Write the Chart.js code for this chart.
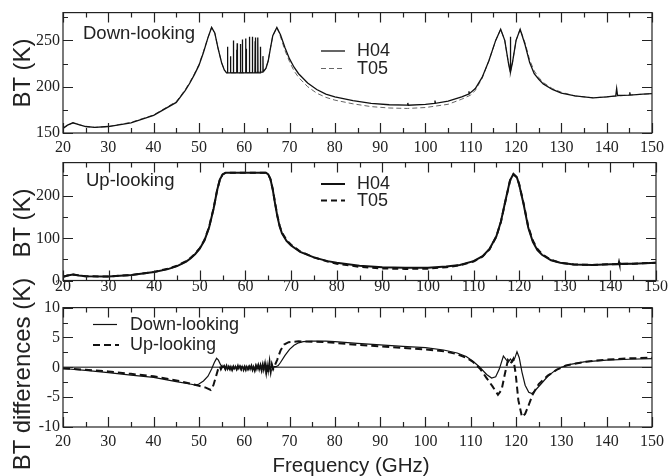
<!DOCTYPE html>
<html>
<head>
<meta charset="utf-8">
<script src="https://cdn.jsdelivr.net/npm/chart.js@4.4.1/dist/chart.umd.min.js"></script>
<style>
  body { margin: 0; background: #fff; }
  #wrap { position: relative; width: 669px; height: 476px; overflow: hidden;
          font-family: 'Liberation Sans', Arial, sans-serif; color: #222; }
  canvas { position: absolute; left: 0; }
  .t { position: absolute; white-space: nowrap; line-height: 1; }
  .rot { transform: translate(-50%, -50%) rotate(-90deg); font-size: 24px; }
  .lab { font-size: 18.5px; transform: translateY(-50%); }
  svg { position: absolute; left: 0; top: 0; }
</style>
</head>
<body>
<div id="wrap">
  <canvas id="c1" width="669" height="155" style="top:0"></canvas>
  <canvas id="c2" width="669" height="150" style="top:150px"></canvas>
  <canvas id="c3" width="669" height="181" style="top:295px"></canvas>

  <div class="t rot" style="left:22px;top:73px">BT (K)</div>
  <div class="t rot" style="left:22px;top:223px">BT (K)</div>
  <div class="t rot" style="left:22px;top:374px">BT differences (K)</div>
  <div class="t" style="left:351px;top:465px;transform:translate(-50%,-50%);font-size:20.5px">Frequency (GHz)</div>

  <div class="t lab" style="left:83px;top:33px">Down-looking</div>
  <div class="t lab" style="left:86px;top:180px">Up-looking</div>
  <div class="t lab" style="left:357px;top:50px;font-size:18px">H04</div>
  <div class="t lab" style="left:357px;top:68px;font-size:18px">T05</div>
  <div class="t lab" style="left:357px;top:183px;font-size:18px">H04</div>
  <div class="t lab" style="left:357px;top:200px;font-size:18px">T05</div>
  <div class="t lab" style="left:130px;top:324px;font-size:18px">Down-looking</div>
  <div class="t lab" style="left:130px;top:344px;font-size:18px">Up-looking</div>

  <svg width="669" height="476">
    <line x1="321" y1="51" x2="345" y2="51" stroke="#111" stroke-width="1.3"/>
    <line x1="321" y1="68.5" x2="345" y2="68.5" stroke="#666" stroke-width="1" stroke-dasharray="5,3"/>
    <line x1="321" y1="184" x2="345" y2="184" stroke="#111" stroke-width="2"/>
    <line x1="321" y1="200.5" x2="345" y2="200.5" stroke="#111" stroke-width="2" stroke-dasharray="6,4"/>
    <line x1="93" y1="324.5" x2="117" y2="324.5" stroke="#111" stroke-width="1.2"/>
    <line x1="93" y1="345" x2="119" y2="345" stroke="#111" stroke-width="2" stroke-dasharray="7,4"/>
  </svg>
</div>
<script>
// frequency ticks (GHz), labelled every 10
const freqTicks = [20, 25, 30, 35, 40, 45, 50, 55, 60, 65, 70, 75, 80, 85, 90, 95, 100,
                   105, 110, 115, 120, 125, 130, 135, 140, 145, 150];
const downTicks = [150, 175, 200, 225, 250, 275];
const upTicks = [0, 50, 100, 150, 200, 250];
const diffTicks = [-10, -7.5, -5, -2.5, 0, 2.5, 5, 7.5, 10];

// down-looking BT (K), H04 model
const downH04 = [
  [20,155],[21,158.5],[22.2,161],[23.5,159],[25,157],[27,156],[30,157],[35,161],[40,169],
  [45,183],[47,196],[48,204],[49,213],[50,223],[51,237],[52,253],[52.8,264],[53.5,258],
  [54.2,242],[55,226],[55.6,218],[56.1,215],
  [56.21,215],[56.26,243],[56.31,215.5],[56.36,236],[56.41,215],[56.92,215],[56.97,233],[57.02,215],
  [57.56,215],[57.61,250],[57.66,215],[58.27,215],[58.32,240],[58.38,215.5],[58.45,247],[58.5,215],
  [59.11,215],[59.16,246],[59.21,215],[59.54,215],[59.59,251],[59.64,215],[60.26,215],[60.31,252],
  [60.37,215.5],[60.43,241],[60.48,215],[61.1,215],[61.15,254],[61.2,215],[61.75,215],[61.8,254],
  [61.85,215],[62.36,215],[62.41,249],[62.45,215.5],[62.49,253],[62.54,215],[62.94,215],[62.99,253],
  [63.04,215],[63.52,215],[63.57,243],[63.62,215.5],[64.08,216],[64.13,233],[64.18,216.5],
  [64.5,218],[64.8,220],[65.3,228],[65.8,242],[66.3,255],[67.2,264],[68,256],[69,242],[70,230],
  [71,221],[72,214],[74,204],[76,197],[78,192],[80,189],[84,185],[88,182],[92,180.5],[96,180],
  [96.1,182.5],[96.2,180],[100,181],[102,182],[102.1,185],[102.2,182],[105,184.5],[108,189],
  [109.5,192],[109.6,195],[109.7,192.5],[111,198],[112.5,210],[114,228],[115.5,250],[116.6,262],
  [117.5,250],[118.3,226],[118.7,216],[118.75,254],[118.8,216],[119.2,226],[120,250],[120.9,262],
  [122,245],[123,226],[124,214],[125,208],[126,203],[128,197],[130,193],[133,190],[137,188],
  [140,189],[142,190],[142.2,198],[142.4,190.5],[145,191],[145.1,194],[145.2,191],[148,192],[150,192.5]
];
// down-looking BT (K), T05 model
const downT05 = [
  [20,155],[21,158.5],[22.2,161],[23.5,159],[25,157],[27,156],[30,157],[35,161.5],[40,169.5],
  [45,184],[47,197],[48,205],[49,214],[50,224],[51,238],[52,253],[52.8,264],[53.5,258],[54.2,242],
  [55,226],[55.6,218],[56.1,215],[60,215],[64.3,216],[64.8,220],[65.3,228],[65.8,242],[66.3,255],
  [67.2,264],[68,254],[69,239],[70,227],[71,217],[72,210],[74,200],[76,193],[78,188.5],[80,185.5],
  [84,181.5],[88,178.5],[92,177],[96,176.5],[100,177.5],[105,181],[108,186.5],[110,191],[111,196],
  [112.5,209],[114,228],[115.5,250],[116.6,262],[117.5,250],[118.3,226],[118.75,216],[119.2,226],
  [120,250],[120.9,262],[122,247],[123,229],[124,217],[125,210],[126,204.5],[128,198],[130,194],
  [133,190],[137,188],[140,189],[145,191],[150,192.5]
];

// up-looking BT (K)
const upH04 = [
  [20,9],[21,12],[22.2,14.5],[23.5,12],[25,10],[30,9.5],[35,13],[40,20],[43,27],[45,34],[47,45],
  [48,53],[49,63],[50,76],[51,95],[52,125],[53,170],[53.8,215],[54.4,240],[55,252],[55.7,256],
  [60,256],[64.5,256],[65,252],[65.5,240],[66,215],[66.5,182],[67,152],[67.5,128],[68,112],
  [69,94],[70,83],[72,68],[75,55],[78,46],[80,42],[85,35],[90,31.5],[95,30],[100,30],[104,33],
  [107,37],[110,46],[112,58],[113.5,75],[115,105],[116,140],[117,190],[118,238],[118.75,253],
  [119.5,245],[120,228],[121,180],[122,125],[123,92],[124,72],[125,61],[127,48],[129,42],[132,38],
  [136,37],[140,38.5],[141.8,39],[141.9,44],[142,39.5],[145,40],[150,42]
];
const upT05 = [
  [20,9],[21,12],[22.2,14.5],[23.5,12],[25,10],[30,9.5],[35,13],[40,20.5],[43,28],[45,35],[47,46],
  [48,54],[49,64],[50,77],[51,96],[52,126],[53,171],[53.8,215],[54.4,240],[55,252],[55.7,256],
  [60,256],[64.5,256],[65,252],[65.5,240],[66,216],[66.5,184],[67,154],[67.5,130],[68,114],
  [69,96],[70,85],[72,69],[75,55],[78,45],[80,40],[85,32.5],[90,28.5],[95,27.5],[100,28],[104,31.5],
  [107,36],[110,45],[112,57],[113.5,74],[115,104],[116,139],[117,189],[118,237],[118.75,252],
  [119.5,245],[120,229],[121,182],[122,128],[123,95],[124,75],[125,63],[127,49],[129,42],[132,38],
  [136,37],[140,38.5],[145,40],[150,42]
];

// BT differences (K)
const diffDown = [
  [20,-0.2],[25,-0.5],[30,-0.9],[35,-1.3],[40,-1.7],[45,-2.4],[48,-2.8],[49.3,-3],[50,-2.8],
  [51,-2.3],[52,-1.5],[52.8,-0.3],[53.4,0.8],[53.9,1.5],[54.3,1.2],[54.8,0.4],[55.3,0],
  [55.55,0.3],[55.8,-0.3],[56.05,0.2],[56.3,-0.4],[56.55,0.1],[56.8,-0.3],[57.05,0.2],[57.3,-0.4],
  [57.55,0.1],[57.8,-0.3],[58.05,0.2],[58.3,-0.4],[58.55,0.1],[58.8,-0.3],[59.05,0.2],[59.3,-0.4],
  [59.55,0.2],[59.8,-0.3],[60.05,0.1],[60.3,-0.4],[60.55,0.2],[60.8,-0.3],[61.05,0.2],[61.3,-0.4],
  [61.55,0.2],[61.8,-0.4],[62.05,0.2],[62.3,-0.5],[62.55,0.3],[62.8,-0.4],[63.05,0.3],[63.3,-0.5],
  [63.55,0.3],[63.8,-0.5],[64.05,0.4],[64.3,-0.6],[64.55,0.5],[64.8,-0.7],[65.05,0.6],[65.3,-0.8],
  [65.55,0.7],[65.8,-0.6],[66.05,0.5],[66.3,-0.3],[66.6,0.1],[67,0.1],
  [67.5,0.3],[68,0.8],[69,2],[70,3],[71,3.7],[72,4.1],[73,4.3],[75,4.4],[78,4.4],[80,4.3],
  [85,4],[90,3.75],[95,3.5],[100,3.3],[104,2.9],[107,2.4],[109,1.8],[110.5,1],[112,0],
  [113.5,-1.2],[114.6,-1.8],[115.5,-1.6],[116.3,-0.3],[117.2,1.9],[117.8,1.3],[118.3,0.9],
  [118.75,1.4],[119.2,0.9],[119.7,1.5],[120.2,2.6],[120.7,1.6],[121.3,-0.8],[122,-3],[122.8,-4.2],
  [123.5,-4.4],[124.3,-3.8],[125.5,-2.8],[127,-1.5],[128.5,-0.6],[130,0],[132,0.5],[135,0.9],
  [140,1.2],[145,1.35],[150,1.45]
];
const diffUp = [
  [20,-0.2],[25,-0.4],[30,-0.7],[35,-1.1],[40,-1.5],[45,-2.2],[48,-2.7],[50,-3.1],[51.5,-3.4],
  [52.6,-3.8],[53.2,-3],[53.7,-1.7],[54.2,-0.4],[54.6,0.2],[54.85,-0.3],[55.1,0.1],[55.35,-0.4],
  [55.6,0.1],[55.85,-0.3],[56.1,0.2],[56.35,-0.4],[56.6,0.1],[56.85,-0.3],[57.1,0.2],[57.35,-0.4],
  [57.6,0.1],[57.85,-0.4],[58.1,0.1],[58.35,-0.3],[58.6,0.2],[58.85,-0.4],[59.1,0.1],[59.35,-0.3],
  [59.6,0.2],[59.85,-0.4],[60.1,0.1],[60.35,-0.4],[60.6,0.2],[60.85,-0.3],[61.1,0.1],[61.35,-0.4],
  [61.6,0.2],[61.85,-0.4],[62.1,0.2],[62.35,-0.5],[62.6,0.2],[62.85,-0.4],[63.1,0.3],[63.35,-0.5],
  [63.6,0.3],[63.85,-0.5],[64.1,0.4],[64.35,-0.6],[64.6,0.5],[64.85,-0.8],[65.1,0.7],[65.35,-0.9],
  [65.6,0.8],[65.85,-0.7],[66.1,0.5],[66.4,-0.3],[66.8,0.4],[67.3,1.3],[68,2.8],
  [68.8,3.8],[69.8,4.2],[72,4.35],[75,4.3],[78,4.2],[80,4.1],[85,3.75],[90,3.5],[95,3.25],
  [100,3],[104,2.7],[107,2.2],[109,1.6],[110.5,0.9],[112,-0.2],[113.5,-1.8],[114.8,-3.2],
  [116,-4.6],[116.8,-3.8],[117.5,-1.2],[118.2,1.2],[118.75,0.6],[119.4,1.4],[119.9,-1],
  [120.5,-5.5],[121.3,-8.3],[122,-7.8],[122.8,-6.3],[123.7,-4.5],[125,-2.8],[127,-1.4],
  [129,-0.4],[131,0.3],[135,0.9],[140,1.3],[145,1.5],[150,1.6]
];
const zeroLine = [[20,0],[150,0]];

const pts = arr => arr.map(([x, y]) => ({ x, y }));

// box + inward ticks on all four sides, Grace style
const framePlugin = {
  id: 'frame',
  afterDatasetsDraw(chart) {
    const { ctx, chartArea: a, scales: { x, y } } = chart;
    ctx.save();
    ctx.strokeStyle = '#222';
    ctx.lineWidth = 1.2;
    ctx.beginPath();
    x.ticks.forEach(t => {
      const px = Math.round(x.getPixelForValue(t.value)) + 0.5;
      const len = t.label !== '' ? 10 : 5;
      ctx.moveTo(px, a.bottom); ctx.lineTo(px, a.bottom - len);
      ctx.moveTo(px, a.top); ctx.lineTo(px, a.top + len);
    });
    y.ticks.forEach(t => {
      const py = Math.round(y.getPixelForValue(t.value)) + 0.5;
      const len = t.label !== '' ? 10 : 5;
      ctx.moveTo(a.left, py); ctx.lineTo(a.left + len, py);
      ctx.moveTo(a.right, py); ctx.lineTo(a.right - len, py);
    });
    ctx.stroke();
    ctx.strokeRect(a.left, a.top, a.right - a.left, a.bottom - a.top);
    ctx.restore();
  }
};

const tickFont = { family: "'Liberation Serif', 'Times New Roman', serif", size: 16 };

function makePanel(id, datasets, yTicks, yMin, yMax, yMajor, plotTop, plotBottom, canvasH, xPad) {
  return new Chart(document.getElementById(id), {
    type: 'line',
    data: { datasets },
    options: {
      responsive: false, animation: false, devicePixelRatio: 1,
      layout: { padding: { top: plotTop, right: 13, left: 0, bottom: 0 } },
      elements: { point: { radius: 0 }, line: { tension: 0 } },
      plugins: { legend: { display: false }, tooltip: { enabled: false } },
      scales: {
        x: {
          type: 'linear', min: 20, max: 150,
          grid: { display: false, drawTicks: false }, border: { display: false },
          afterBuildTicks: s => { s.ticks = freqTicks.map(v => ({ value: v })); },
          afterFit: s => { s.height = canvasH - plotBottom; },
          ticks: { autoSkip: false, maxRotation: 0, padding: xPad, color: '#222', font: tickFont,
                   callback: v => (v % 10 === 0 ? String(v) : '') }
        },
        y: {
          type: 'linear', min: yMin, max: yMax,
          grid: { display: false, drawTicks: false }, border: { display: false },
          afterBuildTicks: s => { s.ticks = yTicks.map(v => ({ value: v })); },
          afterFit: s => { s.width = 63; },
          ticks: { autoSkip: false, padding: 3, color: '#222', font: tickFont,
                   callback: v => (v % yMajor === 0 ? String(v) : '') }
        }
      }
    },
    plugins: [framePlugin]
  });
}

makePanel('c1', [
  { data: pts(downH04), borderColor: '#111', borderWidth: 1.3 },
  { data: pts(downT05), borderColor: '#666', borderWidth: 1, borderDash: [5, 3] }
], downTicks, 150, 280, 50, 12, 133, 155, 5);

makePanel('c2', [
  { data: pts(upH04), borderColor: '#111', borderWidth: 2 },
  { data: pts(upT05), borderColor: '#111', borderWidth: 2, borderDash: [6, 4] }
], upTicks, 0, 280, 100, 8.5, 130.5, 150, -3);

makePanel('c3', [
  { data: pts(diffDown), borderColor: '#111', borderWidth: 1.2 },
  { data: pts(diffUp), borderColor: '#111', borderWidth: 2, borderDash: [7, 4] },
  { data: pts(zeroLine), borderColor: '#555', borderWidth: 1.5 }
], diffTicks, -10, 10, 5, 12, 132, 181, 5);
</script>
</body>
</html>
